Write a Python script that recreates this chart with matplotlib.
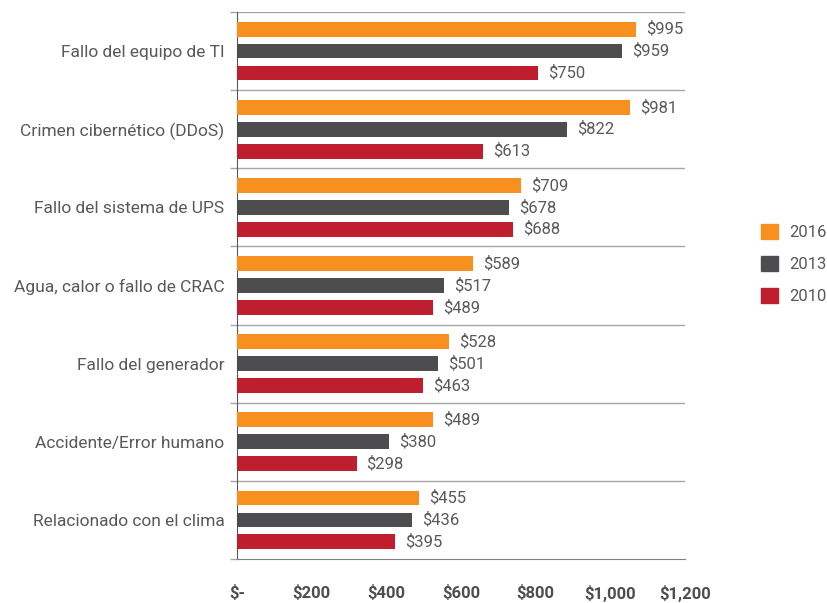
import matplotlib
matplotlib.use("Agg")
import matplotlib.pyplot as plt
import numpy as np

plt.rcParams['font.family'] = ['Roboto', 'DejaVu Sans']

categories = ["Fallo del equipo de TI", "Crimen cibernético (DDoS)", "Fallo del sistema de UPS",
              "Agua, calor o fallo de CRAC", "Fallo del generador", "Accidente/Error humano",
              "Relacionado con el clima"]
years = ["2016", "2013", "2010"]
v2016 = [995, 981, 709, 589, 528, 489, 455]
v2013 = [959, 822, 678, 517, 501, 380, 436]
v2010 = [750, 613, 688, 489, 463, 298, 395]
tick_values = [0, 200, 400, 600, 800, 1000, 1200]
tick_labels = ["$-", "$200", "$400", "$600", "$800", "$1,000", "$1,200"]

colors = ["#F7901E", "#4D4D4F", "#BE1E2D"]
series = [v2016, v2013, v2010]

fig = plt.figure(figsize=(8.27, 6.03), dpi=100)
ax = fig.add_axes([237/827, 44/603, 448/827, 547/603])

n = len(categories)
y = np.arange(n)
offs = [-0.28, 0.0, 0.28]
h = 0.19
for vals, c, o, lab in zip(series, colors, offs, years):
    ax.barh(y + o, vals, height=h, color=c, label=lab, zorder=3)
    for yi, v in zip(y, vals):
        ax.text(v + 25, yi + o, f"${v:,}", va='center', ha='left', fontsize=12, color='#595959')

xmax = 1117
ax.set_xlim(0, xmax)
ax.set_ylim(n - 0.5, -0.5)
ax.set_xticks([t * xmax / 1200 for t in tick_values])
ax.set_xticklabels(tick_labels, fontsize=12, fontweight='bold', color='#4D4D4D')
ax.tick_params(axis='x', length=0, pad=19)
ax.set_yticks(y)
ax.set_yticklabels(categories, fontsize=12.5, color='#595959')
ax.tick_params(axis='y', length=0, pad=9)
bounds = np.arange(n + 1) - 0.5
ax.set_yticks(bounds, minor=True)
ax.tick_params(axis='y', which='minor', length=5, color='#A6A6A6', width=1)
for bnd in bounds[:-1]:
    ax.axhline(bnd, color='#A6A6A6', lw=1, zorder=1)

for s in ['top', 'right']:
    ax.spines[s].set_visible(False)
ax.spines['left'].set_color('#595959')
ax.spines['bottom'].set_color('#808080')

handles = [plt.Rectangle((0, 0), 1, 1, color=c) for c in colors]
fig.legend(handles, years, loc='center left', bbox_to_anchor=(758/827, (603 - 264)/603),
           frameon=False, fontsize=12, labelcolor='#595959', handlelength=1.0,
           handleheight=1.0, labelspacing=0.95, handletextpad=0.7, borderpad=0.2,
           borderaxespad=0)

fig.savefig("out.png", dpi=100)
